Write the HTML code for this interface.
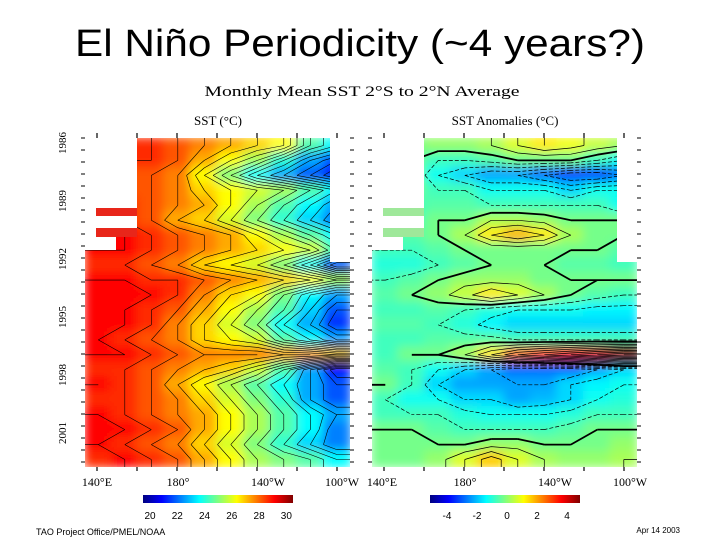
<!DOCTYPE html>
<html><head><meta charset="utf-8"><style>
html,body{margin:0;padding:0;background:#fff;}
svg{display:block;}
.t{font-family:"Liberation Serif",serif;fill:#000;}
</style></head><body>
<svg width="720" height="540" viewBox="0 0 720 540" xmlns="http://www.w3.org/2000/svg">
<defs>
<filter id="bl" x="0" y="0" width="1" height="1"><feGaussianBlur stdDeviation="5"/></filter>
<clipPath id="cpL"><rect x="85" y="138" width="265" height="329"/></clipPath>
<clipPath id="cpR"><rect x="372" y="138" width="265" height="329"/></clipPath>
<linearGradient id="jet" x1="0" x2="1" y1="0" y2="0">
<stop offset="0" stop-color="#000080"/><stop offset="0.125" stop-color="#0000ff"/><stop offset="0.375" stop-color="#00ffff"/><stop offset="0.625" stop-color="#ffff00"/><stop offset="0.875" stop-color="#ff0000"/><stop offset="1" stop-color="#800000"/>
</linearGradient>
</defs>
<text x="360" y="56" text-anchor="middle" font-family="Liberation Sans, sans-serif" font-size="38" textLength="570" lengthAdjust="spacingAndGlyphs">El Niño Periodicity (~4 years?)</text>
<text class="t" x="362" y="96" text-anchor="middle" font-size="15" textLength="315" lengthAdjust="spacingAndGlyphs">Monthly Mean SST  2°S to 2°N Average</text>
<text class="t" x="218" y="125" text-anchor="middle" font-size="13">SST (°C)</text>
<text class="t" x="505" y="125" text-anchor="middle" font-size="13">SST Anomalies (°C)</text>
<g id="gL" clip-path="url(#cpL)"><g id="hL" filter="url(#bl)"></g><g id="cL"></g></g>
<g id="gR" clip-path="url(#cpR)"><g id="hR" filter="url(#bl)"></g><g id="cR"></g></g>
<g id="masks"></g>
<g id="axes"></g>
<rect x="143" y="495" width="150" height="8" fill="url(#jet)"/>
<rect x="430" y="495" width="150" height="8" fill="url(#jet)"/>
<g id="cb"></g>
<text x="36" y="535" font-family="Liberation Sans, sans-serif" font-size="9">TAO Project Office/PMEL/NOAA</text>
<text x="680" y="533" text-anchor="end" font-family="Liberation Sans, sans-serif" font-size="8">Apr 14 2003</text>
</svg>
<script>
const yearTicks=["1986","1989","1992","1995","1998","2001"];
const lonTicks=["140°E","180°","140°W","100°W"];
const sstTicks=["20","22","24","26","28","30"];
const anomTicks=["-4","-2","0","2","4"];
const sstGrid=[
[29.5,29.5,29.5,29,28.5,28,27.5,27,25,24],
[29.5,29.5,29.5,29,28,27,26,24.5,23,22],
[29,29,29,28.5,27,25.5,24,23,22,21],
[29,29,29,28.5,27.5,27,26.5,26,25,24],
[29.5,29.5,29,28.5,28,27,26,25,24,23],
[29.5,29.5,29,28,27.5,26.5,25.5,24.5,23.5,22.5],
[30,30,29.5,29,28.5,28,27,26,25,24],
[30,30,29.5,29,28.5,28,27.5,27,26.5,25],
[29.5,29.5,29,28.5,27.5,27,26.5,25.5,24,22],
[30,30,29.5,29.5,29,28.5,28,27.5,27,26],
[30,30,30,29.5,28.5,27.5,27,25.5,24,23],
[30,30,29.5,29,28,27,26,25,23.5,22],
[30,30,29.5,28.5,27.5,26.5,25.5,24,23,21.5],
[30,29.5,29,28.5,27.5,27,26.5,25,24,23],
[30,30,29.5,29,28.5,28.5,28.5,28,28,27.5],
[29.5,29.5,29,28.5,28,27.5,26.5,25,23,21],
[30,29.5,29,28,27,26,25,24,23,22],
[29.5,29.5,29,28.5,27.5,26.5,25.5,24.5,23,22],
[30,29.5,29,28.5,28,27,26,25,24,23],
[30,30,29.5,29,28,27,26,25,24,22.5],
[30,29.5,29,28.5,27.5,26.5,25.5,24.5,23.5,22.5],
[29.5,30,29.5,29,28,27,26,25.5,25,24]];
const anomGrid=[
[0,0,0.3,0.3,0.5,1,1.5,1.2,0.8,0.5],
[0,0,-0.5,-0.5,-0.3,0,0,0,-0.5,-1],
[0,0,-1,-1.5,-2,-2,-2.5,-3,-3,-2.5],
[0,0,-0.5,-0.5,-1,-1,-1,-1.5,-1,-1],
[-0.5,-0.5,-0.3,-0.3,-0.5,-0.5,-0.5,-0.5,-0.5,-1],
[-0.5,-0.5,0,0,0.5,0.5,0.3,0,0,0],
[-0.5,-0.3,0,0.5,1.5,2,1.5,0.5,0,0],
[-0.5,-0.5,-0.3,0,0,0,0,0,0,-0.3],
[-0.8,-0.8,-0.5,-0.3,0,0,0,-0.3,-0.3,-0.5],
[-0.5,-0.3,0,0.3,0.3,0.3,0,0,0,0],
[-0.3,0,0.3,0.8,1.5,1,0.5,0,-0.3,-0.5],
[-0.5,-0.5,-0.3,-0.5,-0.8,-1,-1,-1,-1.2,-1.2],
[-0.3,-0.3,-0.5,-0.8,-1.2,-1.5,-1.5,-1.5,-1.5,-1.5],
[-0.5,-0.5,-0.3,-0.3,-0.3,-0.5,-0.5,-0.5,-0.5,-0.5],
[-0.5,0,0,0.5,1.5,2.5,3,3.5,4,4.5],
[-0.3,-0.5,-1,-1.5,-2,-2.5,-2.5,-2.5,-2,-1.5],
[0,-0.5,-1.5,-2,-2,-2,-2,-1.5,-1.2,-1],
[-0.5,-1,-1,-1.5,-1.5,-2,-1.8,-1.5,-1,-0.8],
[-0.5,-0.5,-0.5,-0.8,-1,-1,-1,-0.8,-0.5,-0.5],
[0,0,-0.3,-0.5,-0.5,-0.5,-0.5,-0.3,0,0],
[0,0,0,0,0.3,0.3,0,0,0,0.3],
[0,0,0.3,1,1.8,1,0.5,0.3,0.3,0.5]];
const NS="http://www.w3.org/2000/svg";
function mk(tag,attrs,parent){const e=document.createElementNS(NS,tag);for(const k in attrs)e.setAttribute(k,attrs[k]);parent.appendChild(e);return e;}
function jet(t){t=Math.max(0,Math.min(1,t));const c=v=>Math.round(255*Math.max(0,Math.min(1,v)));return `rgb(${c(1.5-Math.abs(4*t-3))},${c(1.5-Math.abs(4*t-2))},${c(1.5-Math.abs(4*t-1))})`;}
const plotTop=138,plotBot=467;
function drawHeat(grid,g,x0,w,vmin,vmax,name){
  const rows=grid.length,cols=grid[0].length;
  const rh=(plotBot-plotTop)/rows,cw=w/cols;
  grid.forEach((row,i)=>row.forEach((v,j)=>{
    const r=mk('rect',{x:x0+j*cw-1,y:plotTop+i*rh-1,width:cw+2,height:rh+2,fill:jet((v-vmin)/(vmax-vmin))},g);
    
    
  }));
}
function drawContours(grid,g,x0,w,levels,styleFn){
  const rows=grid.length,cols=grid[0].length;
  const rh=(plotBot-plotTop)/rows,cw=w/cols;
  const px=j=>x0+(j+0.5)*cw, py=i=>plotTop+(i+0.5)*rh;
  const P=(i,j)=>grid[Math.max(0,Math.min(rows-1,i))][Math.max(0,Math.min(cols-1,j))];
  levels.forEach(L=>{
    let d='';
    for(let i=-1;i<rows;i++)for(let j=-1;j<cols;j++){
      const a=P(i,j),b=P(i,j+1),c=P(i+1,j+1),e=P(i+1,j);
      const pts=[];
      const X0=px(j),X1=px(j+1),Y0=py(i),Y1=py(i+1);
      const cr=(v1,v2,p1,p2)=>{if((v1<L)!==(v2<L)){const t=(L-v1)/(v2-v1);pts.push([p1[0]+t*(p2[0]-p1[0]),p1[1]+t*(p2[1]-p1[1])]);}};
      cr(a,b,[X0,Y0],[X1,Y0]);cr(b,c,[X1,Y0],[X1,Y1]);cr(c,e,[X1,Y1],[X0,Y1]);cr(e,a,[X0,Y1],[X0,Y0]);
      for(let k=0;k+1<pts.length;k+=2)d+=`M${pts[k][0].toFixed(1)},${pts[k][1].toFixed(1)}L${pts[k+1][0].toFixed(1)},${pts[k+1][1].toFixed(1)}`;
    }
    if(d){const p=mk('path',Object.assign({d:d,fill:'none',stroke:'#000'},styleFn(L)),g);
      
      }
  });
}
drawHeat(sstGrid,document.getElementById('hL'),85,265,19.5,31.5,'sst-cell');
drawHeat(anomGrid,document.getElementById('hR'),372,265,-4.8,5,'anomaly-cell');
const sstLevels=[];for(let v=20.5;v<=30;v+=0.5)sstLevels.push(v);
const anomLevels=[];for(let v=-4;v<=4.5;v+=0.5)anomLevels.push(v);
drawContours(sstGrid,document.getElementById('cL'),85,265,sstLevels,L=>({'stroke-width':0.6}));
drawContours(anomGrid,document.getElementById('cR'),372,265,anomLevels,L=>L===0?{'stroke-width':1.8}:(L<0?{'stroke-width':0.7,'stroke-dasharray':'4 2'}:{'stroke-width':0.7}));
const m=document.getElementById('masks');
function panelMask(x0,fill,nm){
  const s=[[x0,138,52,70,'#fff'],[x0+11,208,41,8,fill],[x0,216,52,12,'#fff'],[x0,208,11,29,'#fff'],[x0+11,228,41,9,fill],[x0,237,31,13,'#fff'],[x0+245,138,20,124,'#fff']];
  s.forEach(a=>{const r=mk('rect',{x:a[0],y:a[1],width:a[2],height:a[3],fill:a[4]},m);});
}
panelMask(85,'#e8261a','missing-data-mask');
panelMask(372,'#9fe89a','missing-data-mask');
const ax=document.getElementById('axes');
yearTicks.forEach((t,i)=>{
  const y=143+i*58;
  const tx=mk('text',{x:66,y:y,transform:`rotate(-90 66 ${y})`,'text-anchor':'middle','font-family':'Liberation Serif, serif','font-size':'11'},ax);
  tx.textContent=t;
  
  
});
const lonL=[97,178,268,342],lonR=[382,465,555,630];
lonTicks.forEach((t,i)=>{
  [lonL[i],lonR[i]].forEach(x=>{
    const tx=mk('text',{x:x,y:486,'text-anchor':'middle','font-family':'Liberation Serif, serif','font-size':'12'},ax);
    tx.textContent=t;
    
    
  });
});
[[85,350],[372,637]].forEach(p=>{
  for(let k=0;k<28;k++){const y=138+k*12;
    const l=mk('line',{x1:p[1],x2:p[1]+4,y1:y,y2:y,stroke:'#000','stroke-width':1},ax);
    const l2=mk('line',{x1:p[0]-4,x2:p[0],y1:y,y2:y,stroke:'#000','stroke-width':1},ax);}
  for(let k=0;k<7;k++){const x=p[0]+12+k*40;
    const l=mk('line',{x1:x,x2:x,y1:plotBot,y2:plotBot+4,stroke:'#000','stroke-width':1.2},ax);
    const l2=mk('line',{x1:x,x2:x,y1:plotTop-5,y2:plotTop,stroke:'#000','stroke-width':1.2},ax);}
});
const cb=document.getElementById('cb');
sstTicks.forEach((t,i)=>{
  const x=143+(i*2)/11*150+7;
  const tx=mk('text',{x:x,y:519,'text-anchor':'middle','font-family':'Liberation Sans, sans-serif','font-size':'10'},cb);
  tx.textContent=t;
  
  
});
anomTicks.forEach((t,i)=>{
  const x=430+((+t)+5)/10*150+2;
  const tx=mk('text',{x:x,y:519,'text-anchor':'middle','font-family':'Liberation Sans, sans-serif','font-size':'10'},cb);
  tx.textContent=t;
  
  
});
</script>
</body></html>
